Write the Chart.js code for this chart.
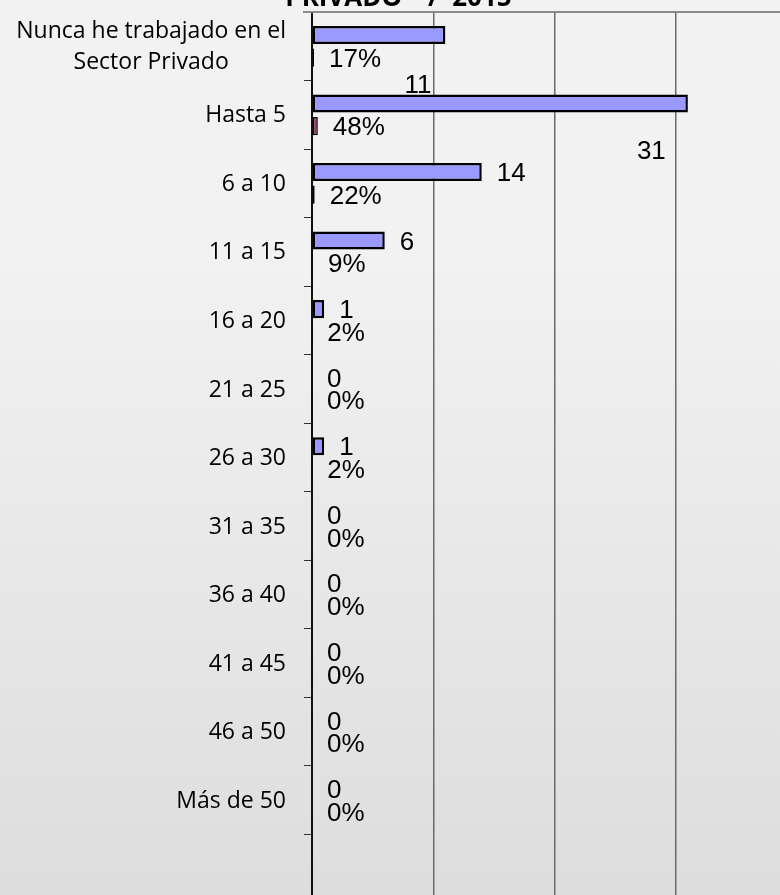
<!DOCTYPE html>
<html lang="es">
<head>
<meta charset="utf-8">
<title>Años en el sector privado / 2015</title>
<script src="https://cdn.jsdelivr.net/npm/chart.js@4.4.1/dist/chart.umd.min.js"></script>
<style>
    html, body {
        margin: 0;
        padding: 0;
        width: 780px;
        height: 895px;
        overflow: hidden;
    }
    body {
        position: relative;
        background: linear-gradient(to bottom, #f2f2f2 0%, #f2f2f2 28%, #dddddd 100%);
    }
    #chart {
        position: absolute;
        left: 0;
        top: -30px;
    }
</style>
</head>
<body>
<canvas id="chart" width="797" height="933"></canvas>
<script>
// Values
const categories = [
    ['Nunca he trabajado en el', 'Sector Privado'],
    'Hasta 5', '6 a 10', '11 a 15', '16 a 20', '21 a 25', '26 a 30',
    '31 a 35', '36 a 40', '41 a 45', '46 a 50', 'Más de 50', ''
];
const counts = [11, 31, 14, 6, 1, 0, 1, 0, 0, 0, 0, 0, null];
const shares = [0.17, 0.48, 0.22, 0.09, 0.02, 0, 0.02, 0, 0, 0, 0, 0, null];
const xTicks = [0, 10, 20, 30, 40];

// two labels sit away from their bars in the original
const labelNudge = { '0:0': [-56, 49], '0:1': [-66, 46] };

// grey frame line along the top of the plot area
const topEdge = {
    id: 'topEdge',
    afterDraw(chart) {
        const { ctx, chartArea } = chart;
        ctx.save();
        ctx.strokeStyle = '#8a8a8a';
        ctx.lineWidth = 2;
        ctx.beginPath();
        ctx.moveTo(chartArea.left - 9, chartArea.top);
        ctx.lineTo(chartArea.right, chartArea.top);
        ctx.stroke();
        ctx.restore();
    }
};

// category names, multi-line ones centred on their widest line
const categoryLabels = {
    id: 'categoryLabels',
    afterDraw(chart) {
        const scale = chart.scales.y;
        const ctx = chart.ctx;
        const right = scale.right - 8 - 18;
        const lh = 31;
        ctx.save();
        ctx.font = '23px "Open Sans", sans-serif';
        ctx.fillStyle = '#000';
        ctx.textAlign = 'center';
        ctx.textBaseline = 'middle';
        categories.forEach((label, i) => {
            const lines = Array.isArray(label) ? label : [label];
            const w = Math.max(...lines.map(l => ctx.measureText(l).width));
            const y0 = scale.getPixelForTick(i) - (lines.length - 1) * lh / 2 + 1;
            lines.forEach((l, j) => ctx.fillText(l, right - w / 2, y0 + j * lh));
        });
        ctx.restore();
    }
};

// value / percentage labels next to the bars
const valueLabels = {
    id: 'valueLabels',
    afterDatasetsDraw(chart) {
        const ctx = chart.ctx;
        ctx.save();
        ctx.font = '26px "Liberation Sans", Arial, sans-serif';
        ctx.fillStyle = '#000';
        ctx.textAlign = 'left';
        ctx.textBaseline = 'middle';
        chart.data.datasets.forEach((ds, d) => {
            chart.getDatasetMeta(d).data.forEach((bar, i) => {
                const v = ds.data[i];
                if (v === null || v === undefined) return;
                const text = d === 0 ? String(v) : Math.round(v * 100) + '%';
                const [dx, dy] = labelNudge[d + ':' + i] || [0, 0];
                ctx.fillText(text, bar.x + 15 + dx, bar.y + 2 + dy);
            });
        });
        ctx.restore();
    }
};

new Chart(document.getElementById('chart'), {
    type: 'bar',
    data: {
        labels: categories,
        datasets: [
            {
                label: 'Cantidad',
                data: counts,
                backgroundColor: '#9999ff',
                borderColor: '#000',
                borderWidth: 2.5,
                borderSkipped: false,
                categoryPercentage: 0.66,
                barPercentage: 0.8
            },
            {
                label: 'Porcentaje',
                data: shares,
                backgroundColor: '#993366',
                borderColor: '#000',
                borderWidth: 1.5,
                borderSkipped: false,
                categoryPercentage: 0.66,
                barPercentage: 0.8
            }
        ]
    },
    options: {
        indexAxis: 'y',
        responsive: false,
        animation: false,
        layout: { padding: 0 },
        scales: {
            x: {
                position: 'top',
                min: xTicks[0],
                max: xTicks[xTicks.length - 1],
                afterBuildTicks(scale) {
                    scale.ticks = xTicks.map(v => ({ value: v }));
                },
                ticks: { display: false },
                grid: { color: '#6a6a6a', lineWidth: 1.5, drawTicks: false },
                border: { color: '#8a8a8a', width: 2 }
            },
            y: {
                ticks: { display: false },
                grid: { drawOnChartArea: false, tickLength: 8, color: '#333', lineWidth: 1, offset: true },
                border: { color: '#111', width: 2 },
                afterFit(scale) {
                    scale.width = 312;
                }
            }
        },
        plugins: {
            legend: { display: false },
            tooltip: { enabled: false },
            title: {
                display: true,
                text: 'PRIVADO"  /  2015',
                color: '#000',
                font: { family: '"Open Sans", sans-serif', size: 26, weight: 'bold', lineHeight: 1 },
                padding: { top: 16, bottom: 0 }
            }
        }
    },
    plugins: [topEdge, categoryLabels, valueLabels]
});
</script>
</body>
</html>
